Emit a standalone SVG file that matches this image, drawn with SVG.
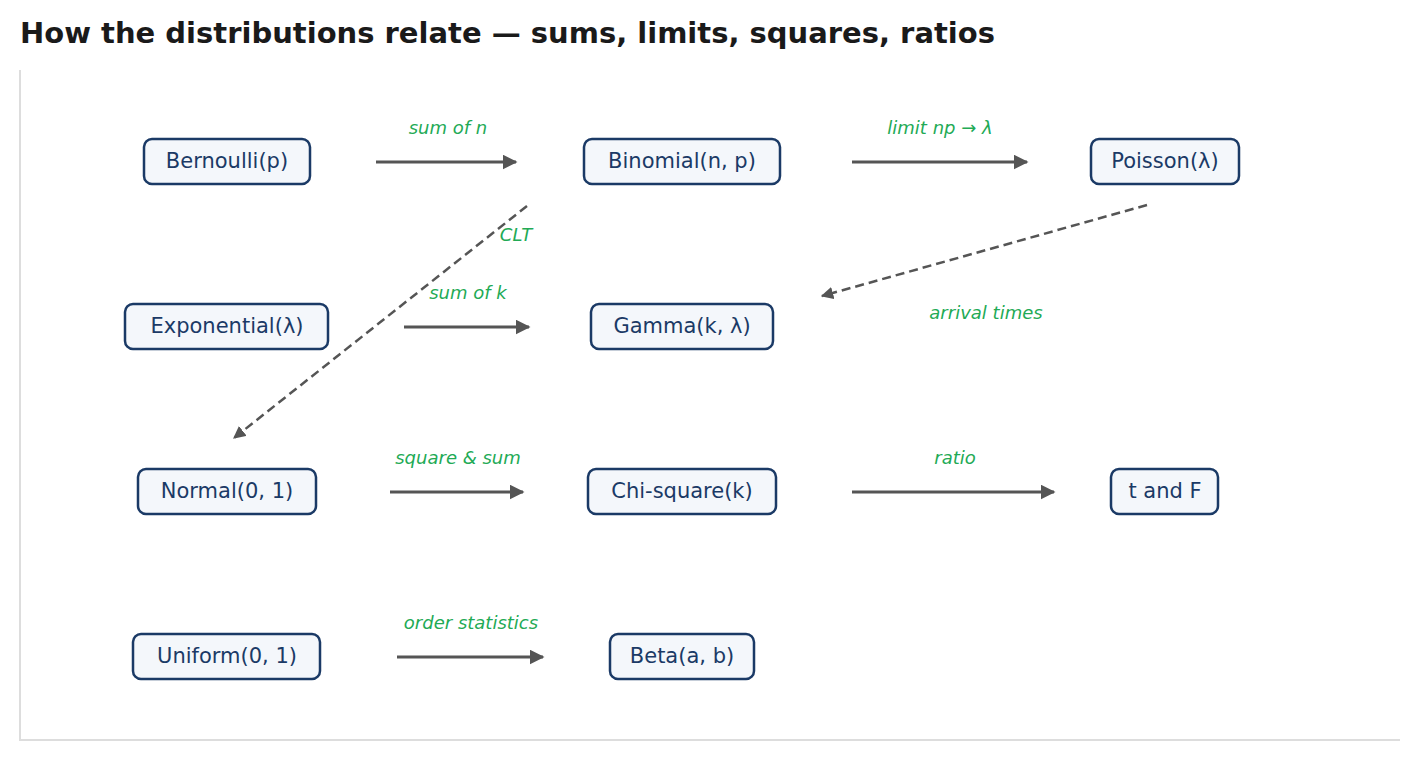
<svg xmlns="http://www.w3.org/2000/svg" width="1420" height="760" viewBox="0 0 1420 760">
<style>
.n rect{fill:#f4f7fb;stroke:#1b3a66;stroke-width:2.5}
.n text{font-family:"DejaVu Sans",sans-serif;font-size:21px;fill:#1b3a66;text-anchor:middle;dominant-baseline:central}
.l{font-family:"DejaVu Sans",sans-serif;font-size:18px;font-style:italic;fill:#22aa55;text-anchor:middle}
.e{stroke:#555;stroke-width:3;fill:none;marker-end:url(#a)}
.d{stroke:#555;stroke-width:2.5;fill:none;stroke-dasharray:9,5;marker-end:url(#a)}
</style>
<defs><marker id="a" viewBox="0 0 10 10" refX="9" refY="5" markerWidth="5" markerHeight="5" orient="auto" markerUnits="strokeWidth"><path d="M0,0L10,5L0,10z" fill="#555"/></marker></defs>
<rect width="1420" height="760" fill="#fff"/>
<text x="20" y="43" font-family="DejaVu Sans,sans-serif" font-weight="bold" font-size="29" fill="#1a1a1a">How the distributions relate — sums, limits, squares, ratios</text>
<path d="M20,70V740H1400" stroke="#ddd" stroke-width="2" fill="none"/>
<g id="connectors">
<path class="e" d="M376,162H516"/>
<path class="e" d="M852,162H1027"/>
<path class="d" d="M527,206L234,438"/>
<path class="d" d="M1147,205L822,296"/>
<path class="e" d="M404,327H529"/>
<path class="e" d="M390,492H523"/>
<path class="e" d="M852,492H1054"/>
<path class="e" d="M397,657H543"/>
<text class="l" x="448" y="134">sum of n</text>
<text class="l" x="940" y="134">limit np → λ</text>
<text class="l" x="516" y="241">CLT</text>
<text class="l" x="468" y="299">sum of k</text>
<text class="l" x="986" y="319">arrival times</text>
<text class="l" x="458" y="464">square &amp; sum</text>
<text class="l" x="955" y="464">ratio</text>
<text class="l" x="471" y="629">order statistics</text>
</g>
<g id="bernoulli" class="n"><rect x="144" y="139" width="166" height="45" rx="8"/><text x="227" y="161">Bernoulli(p)</text></g>
<g id="binomial" class="n"><rect x="584" y="139" width="196" height="45" rx="8"/><text x="682" y="161">Binomial(n, p)</text></g>
<g id="poisson" class="n"><rect x="1091" y="139" width="148" height="45" rx="8"/><text x="1165" y="161">Poisson(λ)</text></g>
<g id="exponential" class="n"><rect x="125" y="304" width="203" height="45" rx="8"/><text x="227" y="326">Exponential(λ)</text></g>
<g id="gamma" class="n"><rect x="591" y="304" width="182" height="45" rx="8"/><text x="682" y="326">Gamma(k, λ)</text></g>
<g id="normal" class="n"><rect x="138" y="469" width="178" height="45" rx="8"/><text x="227" y="491">Normal(0, 1)</text></g>
<g id="chisquare" class="n"><rect x="588" y="469" width="188" height="45" rx="8"/><text x="682" y="491">Chi-square(k)</text></g>
<g id="tf" class="n"><rect x="1111" y="469" width="107" height="45" rx="8"/><text x="1165" y="491">t and F</text></g>
<g id="uniform" class="n"><rect x="133" y="634" width="187" height="45" rx="8"/><text x="227" y="656">Uniform(0, 1)</text></g>
<g id="beta" class="n"><rect x="610" y="634" width="144" height="45" rx="8"/><text x="682" y="656">Beta(a, b)</text></g>
</svg>
